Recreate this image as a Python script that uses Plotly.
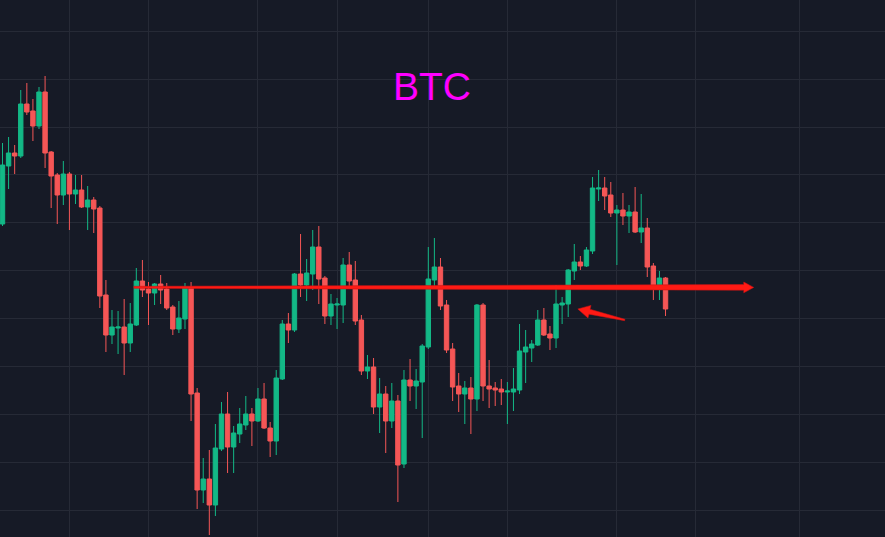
import plotly.graph_objects as go

# ---------------- data ----------------
opens = [67520, 68680, 68940, 68880, 69920, 69780, 69480, 70160, 68960, 68500,
         68100, 68520, 68120, 68200, 67860, 68000, 67840, 66100, 65300, 65440,
         65460, 65140, 65500, 66380, 66220, 66140, 66320, 66220, 65860, 65420,
         65620, 66240, 64140, 62200, 62420, 61900, 63020, 63720, 63060, 63320,
         63500, 63720, 63580, 64020, 63440, 63180, 64420, 65520, 65400, 66520,
         66300, 66520, 67060, 66440, 65680, 65900, 65900, 66700, 66400, 65600,
         64580, 64660, 63860, 64120, 63580, 63980, 62720, 64400, 64280, 64360,
         65060, 66400, 66660, 65900, 65020, 64280, 64120, 64240, 64020, 65900,
         64280, 64240, 64220, 64160, 64160, 64200, 64960, 65040, 65100, 65600,
         65320, 65240, 65900, 65920, 66580, 66760, 66680, 66980, 68220, 68240,
         68100, 67740, 67800, 67680, 67760, 67360, 67440, 66680, 66300, 66440]
highs = [69140, 69260, 69100, 70200, 70340, 70020, 70260, 70480, 68980, 68540,
         68780, 68560, 68500, 68500, 68280, 68060, 67880, 66400, 65800, 65780,
         66020, 65940, 66640, 66800, 66360, 66340, 66500, 66340, 65900, 65980,
         66340, 66360, 64240, 62840, 63000, 63520, 63960, 64160, 63480, 63840,
         64080, 63840, 64240, 64340, 63560, 64600, 65600, 65740, 66540, 67320,
         66820, 67400, 67480, 66480, 66120, 66040, 66840, 66960, 66780, 65700,
         64900, 64840, 64440, 64280, 64340, 64100, 64600, 64820, 64620, 65120,
         67060, 67240, 66840, 66000, 65140, 64540, 64380, 64460, 65920, 65940,
         64800, 64360, 64420, 64360, 64640, 65520, 65400, 65200, 65800, 65840,
         65480, 66300, 66060, 66620, 67120, 66880, 67060, 68460, 68600, 68460,
         68360, 67900, 68140, 67900, 68260, 68120, 67640, 66740, 66580, 66460]
lows = [67480, 68220, 68520, 68840, 69700, 69180, 69420, 68640, 67840, 67520,
        67900, 67400, 67920, 67840, 67400, 67340, 65840, 64960, 65120, 64920,
        64500, 64960, 65480, 66060, 65500, 65900, 65920, 65800, 65300, 65340,
        65420, 63580, 61820, 61940, 61300, 61680, 62980, 62540, 62540, 63140,
        63400, 63080, 63560, 63420, 62860, 62900, 64400, 65140, 65360, 66060,
        65980, 66200, 65920, 65520, 65500, 65420, 65540, 66280, 65500, 64500,
        64420, 63720, 63340, 62940, 63440, 61960, 62640, 63980, 63820, 63240,
        65020, 66280, 65800, 64940, 63980, 63760, 63520, 63320, 63780, 63980,
        63840, 63880, 63900, 63520, 63780, 64120, 64340, 64760, 65080, 65280,
        65000, 65040, 65520, 65660, 66400, 66600, 66660, 66920, 67980, 67800,
        67660, 66700, 67500, 67340, 67340, 67140, 66460, 66000, 66000, 65680]
closes = [68700, 68940, 68880, 69920, 69760, 69480, 70160, 68940, 68480, 68100,
          68520, 68120, 68200, 67860, 68000, 67820, 66080, 65300, 65460, 65460,
          65140, 65520, 66380, 66200, 66140, 66320, 66200, 65840, 65420, 65640,
          66240, 64120, 62200, 62420, 61900, 63040, 63720, 63060, 63340, 63520,
          63720, 63580, 64020, 63440, 63180, 64440, 65520, 65400, 66520, 66300,
          66540, 67060, 66420, 65680, 65920, 65920, 66700, 66380, 65580, 64580,
          64660, 63860, 64120, 63580, 63980, 62700, 64400, 64280, 64380, 65080,
          66420, 66660, 65880, 65000, 64260, 64120, 64240, 64020, 65900, 64280,
          64220, 64200, 64160, 64180, 64220, 64980, 65060, 65120, 65600, 65300,
          65240, 65920, 65940, 66600, 66760, 66680, 67000, 68240, 68240, 68080,
          67740, 67800, 67680, 67760, 67360, 67440, 66660, 66300, 66440, 65820]
candle_index = list(range(len(opens)))

# vertical grid (time) positions and horizontal grid (price) levels
time_grid = [11, 24, 42, 55, 70, 83, 101, 114, 131]
price_grid = [71380, 70420, 69460, 68520, 67560, 66600, 65640, 64680, 63720, 62760, 61800]

title_text = "BTC"

# drawings: long support line with arrow head, short pointer arrow  (candle index, price)
long_arrow = [(21.6, 66274), (121.86, 66308), (121.86, 66360), (123.5, 66252),
              (121.86, 66144), (121.86, 66196), (21.6, 66234)]
short_arrow = [(102.33, 65614), (96.59, 65815), (96.74, 65892), (94.58, 65820),
               (96.25, 65640), (96.41, 65717), (102.27, 65586)]

# ---------------- styles ----------------
BG = "#161a26"
GRID = "#262a36"
UP = "#13b886"
DOWN = "#f55656"
DRAW = "#ff1a14"

fig = go.Figure()
fig.add_trace(go.Candlestick(
    x=candle_index, open=opens, high=highs, low=lows, close=closes,
    increasing=dict(line=dict(color=UP, width=1), fillcolor=UP),
    decreasing=dict(line=dict(color=DOWN, width=1), fillcolor=DOWN),
    whiskerwidth=0, hoverinfo="skip", showlegend=False,
))


def path_of(pts):
    return "M " + " L ".join(f"{x},{y}" for x, y in pts) + " Z"


fig.add_shape(type="path", path=path_of(long_arrow), xref="x", yref="y",
              fillcolor=DRAW, line=dict(color="rgba(200,20,20,0.55)", width=1), layer="above")
fig.add_shape(type="path", path=path_of(short_arrow), xref="x", yref="y",
              fillcolor=DRAW, line=dict(color="rgba(200,20,20,0.55)", width=1), layer="above")

fig.add_annotation(text=title_text, xref="paper", yref="paper", x=0.4876, y=0.838,
                   xanchor="center", yanchor="middle", showarrow=False,
                   font=dict(family="Liberation Sans, Arial, sans-serif", size=39, color="#ff00ff"))

fig.update_layout(
    width=885, height=537,
    margin=dict(l=0, r=0, t=0, b=0),
    paper_bgcolor=BG, plot_bgcolor=BG,
    boxgap=0.15, boxgroupgap=0.15,
    hovermode=False,
    xaxis=dict(range=[-0.411, 145.08], tickvals=time_grid, showticklabels=False,
               showgrid=True, gridcolor=GRID, gridwidth=1, zeroline=False,
               rangeslider=dict(visible=False), showline=False, ticks=""),
    yaxis=dict(range=[61260, 72000], tickvals=price_grid, showticklabels=False,
               showgrid=True, gridcolor=GRID, gridwidth=1, zeroline=False,
               showline=False, ticks=""),
)

fig.write_html("out.html", config={"displayModeBar": False},
               post_script="document.body.style.margin='0';document.body.style.overflow='hidden';")
